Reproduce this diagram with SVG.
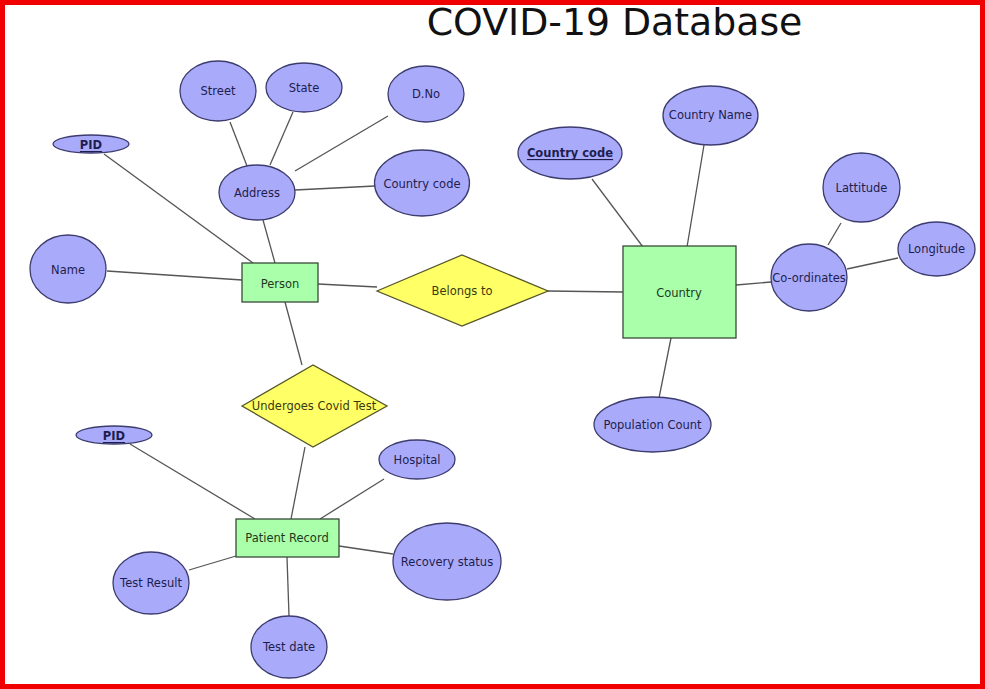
<svg xmlns="http://www.w3.org/2000/svg" width="985" height="689" viewBox="0 0 985 689">
<style>
.attr{fill:#aaaafb;stroke:#3c3c6e;stroke-width:1.3}
.ent{fill:#aaffaa;stroke:#3a4a3a;stroke-width:1.3}
.rel{fill:#ffff66;stroke:#55552a;stroke-width:1.3}
.t{font-family:"DejaVu Sans",Verdana,sans-serif;font-size:11.5px;text-anchor:middle;dominant-baseline:central}
.ta{fill:#1e1e4e}
.te{fill:#1e3a1e}
.tr{fill:#3a3a10}
.key{font-weight:bold;text-decoration:underline}
#connectors line{stroke:#555;stroke-width:1.3}
</style>
<rect x="0" y="0" width="985" height="689" fill="#fff"/>
<rect x="2.5" y="2.5" width="980" height="684" fill="none" stroke="#f00000" stroke-width="5"/>
<text x="614.5" y="35" font-family="DejaVu Sans,Verdana,sans-serif" font-size="37.8" text-anchor="middle" fill="#111">COVID-19 Database</text>
<g id="connectors">
<line x1="230" y1="122" x2="247" y2="166"/>
<line x1="293" y1="112" x2="270" y2="165"/>
<line x1="388" y1="116" x2="295" y2="171"/>
<line x1="295" y1="190" x2="375" y2="186"/>
<line x1="104" y1="154" x2="253" y2="263"/>
<line x1="263" y1="220" x2="275" y2="263"/>
<line x1="107" y1="271" x2="242" y2="280"/>
<line x1="318" y1="284" x2="377" y2="287"/>
<line x1="285" y1="302" x2="302" y2="365"/>
<line x1="548" y1="291" x2="623" y2="292"/>
<line x1="592" y1="179" x2="643" y2="247"/>
<line x1="704" y1="145" x2="687" y2="247"/>
<line x1="841" y1="223" x2="828" y2="245"/>
<line x1="898" y1="258" x2="847" y2="269"/>
<line x1="736" y1="285" x2="771" y2="282"/>
<line x1="671" y1="338" x2="659" y2="398"/>
<line x1="130" y1="444" x2="255" y2="519"/>
<line x1="305" y1="447" x2="291" y2="519"/>
<line x1="384" y1="479" x2="320" y2="519"/>
<line x1="339" y1="546" x2="393" y2="554"/>
<line x1="236" y1="556" x2="189" y2="570"/>
<line x1="287" y1="557" x2="289" y2="616"/>
</g>
<g id="street"><ellipse class="attr" cx="218" cy="91" rx="38" ry="30"/><text class="t ta" x="218" y="91">Street</text></g>
<g id="state"><ellipse class="attr" cx="304" cy="87.5" rx="38" ry="24.5"/><text class="t ta" x="304" y="88">State</text></g>
<g id="dno"><ellipse class="attr" cx="426" cy="94" rx="38" ry="28"/><text class="t ta" x="426" y="94">D.No</text></g>
<g id="pid1"><ellipse class="attr" cx="91" cy="144" rx="38" ry="9"/><text class="t ta key" x="91" y="145">PID</text></g>
<g id="address"><ellipse class="attr" cx="257" cy="192.5" rx="38" ry="27.5"/><text class="t ta" x="257" y="193">Address</text></g>
<g id="countrycode-attr"><ellipse class="attr" cx="422" cy="183" rx="47.5" ry="33"/><text class="t ta" x="422" y="184">Country code</text></g>
<g id="name"><ellipse class="attr" cx="68" cy="269" rx="38" ry="34"/><text class="t ta" x="68" y="270">Name</text></g>
<g id="person"><rect class="ent" x="242" y="263" width="76" height="39"/><text class="t te" x="280" y="284">Person</text></g>
<g id="belongs"><polygon class="rel" points="377,291 462,255 548,291 462,326"/><text class="t tr" x="462" y="291">Belongs to</text></g>
<g id="country"><rect class="ent" x="623" y="246" width="113" height="92"/><text class="t te" x="679" y="293">Country</text></g>
<g id="countryname"><ellipse class="attr" cx="710.5" cy="115.5" rx="47.5" ry="29.5"/><text class="t ta" x="710.5" y="115">Country Name</text></g>
<g id="countrycode-key"><ellipse class="attr" cx="570" cy="153" rx="52" ry="26"/><text class="t ta key" x="570" y="153">Country code</text></g>
<g id="lattitude"><ellipse class="attr" cx="861.5" cy="187.5" rx="38.5" ry="34.5"/><text class="t ta" x="861.5" y="188">Lattitude</text></g>
<g id="longitude"><ellipse class="attr" cx="936.5" cy="249" rx="38.5" ry="27"/><text class="t ta" x="936.5" y="249">Longitude</text></g>
<g id="coordinates"><ellipse class="attr" cx="809" cy="277.5" rx="38" ry="33.5"/><text class="t ta" x="809" y="278">Co-ordinates</text></g>
<g id="population"><ellipse class="attr" cx="652.5" cy="424.5" rx="58.5" ry="27.5"/><text class="t ta" x="652.5" y="425">Population Count</text></g>
<g id="undergoes"><polygon class="rel" points="242,406 313,365 387,406 313,447"/><text class="t tr" x="314" y="406">Undergoes Covid Test</text></g>
<g id="pid2"><ellipse class="attr" cx="114" cy="435" rx="38" ry="9"/><text class="t ta key" x="114" y="436">PID</text></g>
<g id="hospital"><ellipse class="attr" cx="417" cy="459.5" rx="38" ry="19.5"/><text class="t ta" x="417" y="460">Hospital</text></g>
<g id="patient"><rect class="ent" x="236" y="519" width="103" height="38"/><text class="t te" x="287" y="538">Patient Record</text></g>
<g id="recovery"><ellipse class="attr" cx="447" cy="561.5" rx="54" ry="38.5"/><text class="t ta" x="447" y="562">Recovery status</text></g>
<g id="testresult"><ellipse class="attr" cx="151" cy="583" rx="38" ry="31"/><text class="t ta" x="151" y="583">Test Result</text></g>
<g id="testdate"><ellipse class="attr" cx="289" cy="647" rx="38" ry="31"/><text class="t ta" x="289" y="647">Test date</text></g>
</svg>
